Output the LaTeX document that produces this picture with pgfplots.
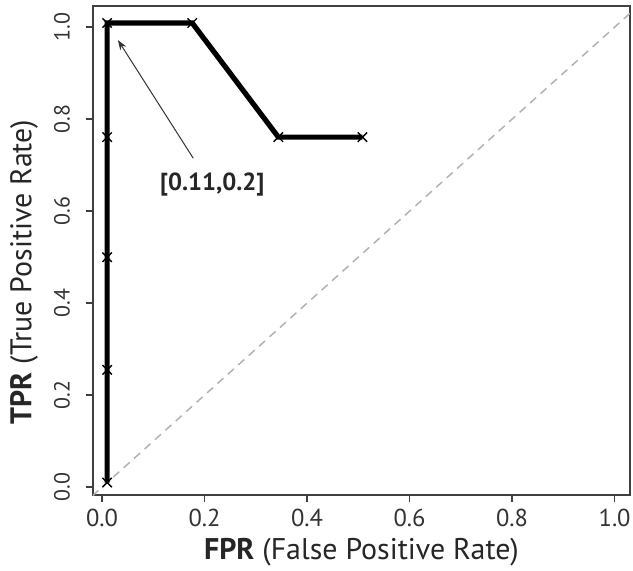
\documentclass[border=0pt]{standalone}
\usepackage{fontspec}
\setmainfont{PT Sans}
\usepackage{pgfplots}
\pgfplotsset{compat=1.18}
\usetikzlibrary{arrows.meta}
\begin{document}
\begin{tikzpicture}
\begin{axis}[
    scale only axis,
    width=268.5bp, height=244.5bp,
    xmin=-0.0176, xmax=1.03,
    ymin=-0.017, ymax=1.046,
    xtick={0,0.2,0.4,0.6,0.8,1.0},
    xticklabels={0.0,0.2,0.4,0.6,0.8,1.0},
    ytick={0,0.2,0.4,0.6,0.8,1.0},
    yticklabels={0.0,0.2,0.4,0.6,0.8,1.0},
    xtick pos=bottom, ytick pos=left,
    tick align=outside,
    major tick length=3.5bp,
    tick style={black!75, line width=0.8bp},
    axis line style={black!75, line width=0.8bp},
    xticklabel style={font=\fontsize{12.3}{14}\selectfont, text=black!80,
        anchor=center, yshift=-8bp},
    yticklabel style={font=\fontsize{11}{13}\selectfont, text=black!80,
        rotate=90, anchor=center, yshift=12bp},
    xlabel={\textbf{FPR} (False Positive Rate)},
    ylabel={\textbf{TPR} (True Positive Rate)},
    label style={font=\fontsize{15}{17}\selectfont, text=black!85},
    xlabel style={at={(axis description cs:0.5,0)}, anchor=center, yshift=-28.5bp},
    ylabel style={at={(axis description cs:0,0.456)}, anchor=center, rotate=0, yshift=34.5bp},
    clip=true,
]
\coordinate (sw) at (rel axis cs:0,0);
\coordinate (ne) at (rel axis cs:1,1);
% chance diagonal
\addplot[gray!60, line width=0.75bp, dash pattern=on 4bp off 3bp] coordinates {
    (-0.1,-0.1) (1.1,1.1)
};
% ROC curve
\addplot[black, line width=2.6bp, mark=x, mark size=3.3bp,
    mark options={line width=0.7bp, solid}] coordinates {
    (0.01,0.01)
    (0.01,0.255)
    (0.01,0.50)
    (0.01,0.761)
    (0.01,1.009)
    (0.176,1.009)
    (0.344,0.761)
    (0.508,0.761)
};
\draw[black!80, line width=0.5bp, -{Stealth[length=5bp, width=3.5bp]}]
    (axis cs:0.178,0.715) -- (axis cs:0.031,0.972);
\node[font=\fontsize{12.4}{14}\selectfont\bfseries, text=black!85]
    at (axis cs:0.215,0.657) {[0.11,0.2]};
\end{axis}
\pgfresetboundingbox
\path ([xshift=-46.5bp,yshift=-38bp]sw) rectangle ([xshift=1.5bp,yshift=3bp]ne);
\end{tikzpicture}
\end{document}
